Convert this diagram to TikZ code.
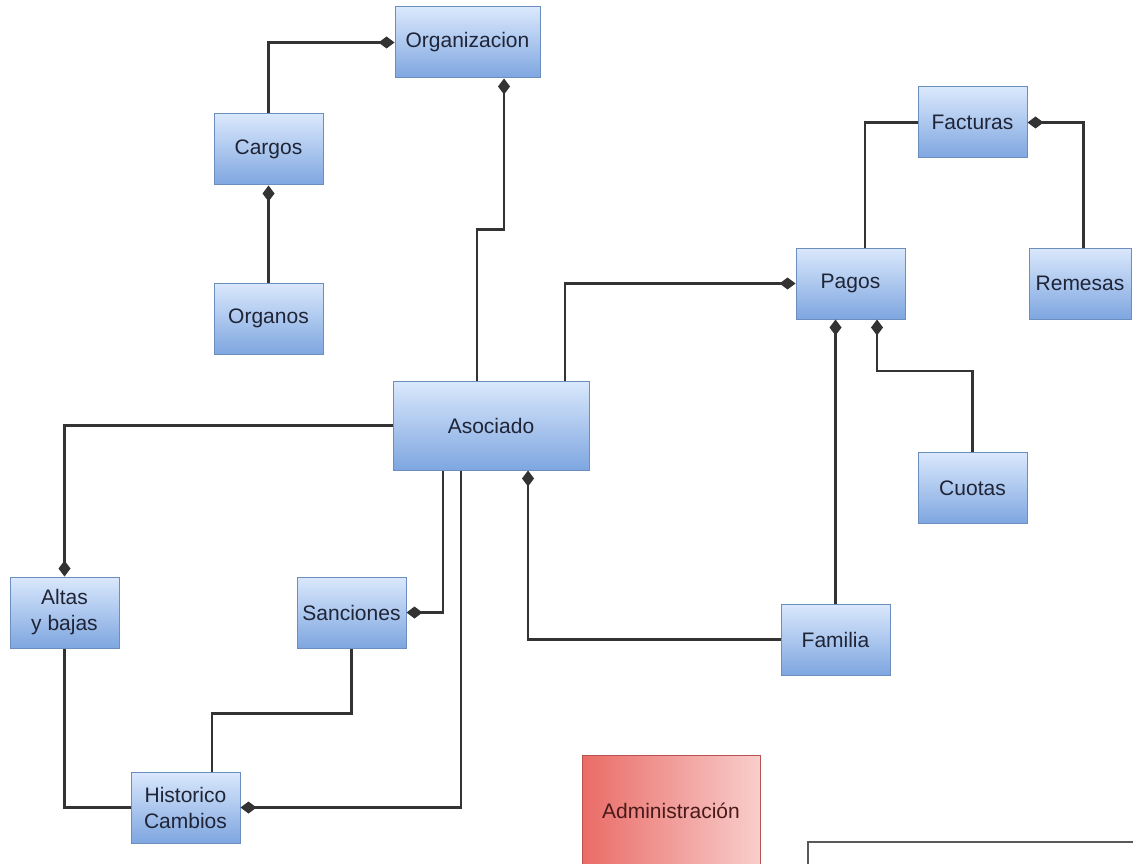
\documentclass[tikz,border=0pt]{standalone}
\usepackage{fontspec}
\setmainfont{Liberation Sans}
\usetikzlibrary{arrows.meta}
\definecolor{bluetop}{HTML}{DAE8FC}
\definecolor{bluebot}{HTML}{7EA6E0}
\definecolor{blueline}{HTML}{6C8EBF}
\definecolor{redleft}{HTML}{EA6B66}
\definecolor{redright}{HTML}{F8CECC}
\definecolor{redline}{HTML}{B85450}
\definecolor{txt}{HTML}{1F2436}
\definecolor{admtxt}{HTML}{4A1A1A}
\definecolor{lnk}{HTML}{333333}
\tikzset{
  entity/.style={draw=blueline, line width=1pt, top color=bluetop, bottom color=bluebot,
    minimum width=109pt, minimum height=71pt, inner sep=0pt, align=center,
    text=txt, font=\fontsize{21}{26}\selectfont},
  admin/.style={draw=redline, line width=1pt, left color=redleft, right color=redright,
    minimum width=178pt, minimum height=111pt, inner sep=0pt, align=center,
    text=admtxt, font=\fontsize{21}{26}\selectfont},
  conn/.style={draw=lnk, line width=2.2pt},
  comp/.style={conn, -{Diamond[length=16pt,width=12pt]}},
  legendline/.style={draw=black!65, line width=2pt}
}
\begin{document}
\begin{tikzpicture}[x=1pt,y=-1pt]
\useasboundingbox (0,0) rectangle (1133,864);
% nodes
\node[entity, minimum width=145pt] (org) at (467.5,42.5) {Organizacion};
\node[entity] (cargos) at (268.5,149.5) {Cargos};
\node[entity] (organos) at (268.5,318.5) {Organos};
\node[entity] (facturas) at (972.5,122.5) {Facturas};
\node[entity] (pagos) at (850.5,283.5) {Pagos};
\node[entity, minimum width=102pt] (remesas) at (1080,283.5) {Remesas};
\node[entity] (cuotas) at (972.5,488) {Cuotas};
\node[entity, minimum width=196pt, minimum height=89pt] (asoc) at (491,425.5) {Asociado};
\node[entity] (altas) at (64.5,612.5) {Altas\\y bajas};
\node[entity] (sanc) at (351.5,612.5) {Sanciones};
\node[entity] (familia) at (835.5,639.5) {Familia};
\node[entity] (hist) at (185.5,807.5) {Historico\\Cambios};
\node[admin] (adm) at (671,810.5) {Administración};
% connectors
\draw[comp] (cargos.north) |- (org.west);
\draw[comp] (organos.north) -- (cargos.south);
\draw[comp] ([xshift=-14pt]asoc.north) -- ++(0,-151) -| ([xshift=36.5pt]org.south);
\draw[comp] ([xshift=74pt]asoc.north) |- (pagos.west);
\draw[conn] ([xshift=14.5pt]pagos.north) |- (facturas.west);
\draw[comp] ([xshift=3.5pt]remesas.north) |- (facturas.east);
\draw[comp] (cuotas.north) -- ++(0,-81) -| ([xshift=26.5pt]pagos.south);
\draw[comp] (familia.north) -- (familia.north |- pagos.south);
\draw[comp] (familia.west) -| ([xshift=37pt]asoc.south);
\draw[comp] (asoc.west) -| (altas.north);
\draw[comp] ([xshift=-48pt]asoc.south) |- (sanc.east);
\draw[comp] ([xshift=-30pt]asoc.south) |- (hist.east);
\draw[conn] (sanc.south) -- ++(0,65) -| ([xshift=26.5pt]hist.north);
\draw[conn] (altas.south) |- (hist.west);
% partially visible frame at bottom right
\draw[legendline] (808,870) -- (808,842) -- (1140,842);
\end{tikzpicture}
\end{document}
